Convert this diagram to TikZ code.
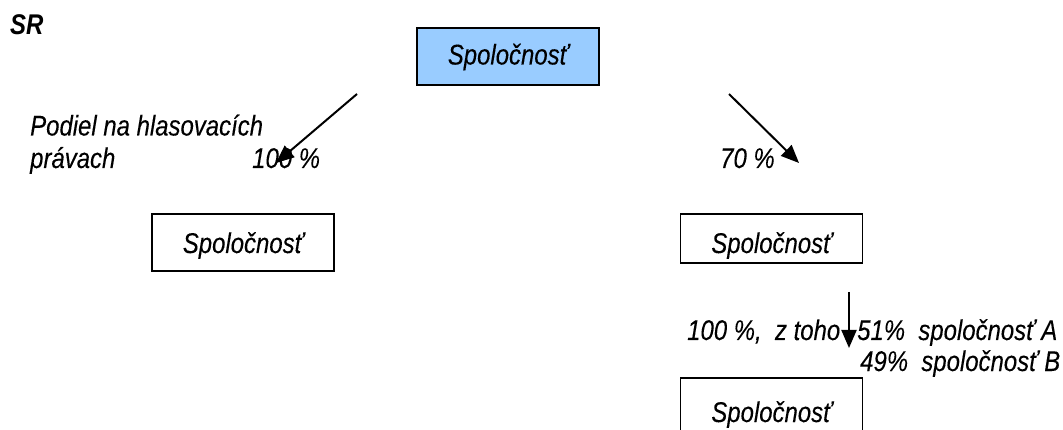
\documentclass[tikz,border=0pt]{standalone}
\usepackage{fontspec}
\setmainfont{Liberation Sans}[FakeStretch=0.84, ItalicFeatures={FakeBold=0.15}]
\usetikzlibrary{arrows.meta}
\definecolor{boxblue}{HTML}{99CCFF}
\begin{document}
\begin{tikzpicture}[x=1pt,y=-1pt,
  txt/.style={font=\fontsize{28.5}{32}\selectfont\itshape},
  company/.style={txt, draw=black, line width=1.8pt, minimum width=182pt,
    minimum height=57pt, inner sep=0pt, text depth=0pt},
  lbl/.style={txt, anchor=base west, inner sep=0pt},
  link/.style={line width=2pt, -{Triangle[length=18pt,width=15pt]}}]
\useasboundingbox (0,0) rectangle (1063,430);

% country heading
\node[lbl, font=\fontsize{28.5}{32}\selectfont\bfseries\itshape] (sr) at (10,35) {SR};

% companies
\node[company, fill=boxblue, text height=16pt] (parent) at (508,56.5) {Spoločnosť};
\node[company, text height=21pt] (subl) at (243,242.5) {Spoločnosť};
\node[company, minimum height=49pt, text height=29pt] (subr) at (771.5,238.5) {Spoločnosť};
\node[company, text height=31pt] (subsub) at (771.5,406.5) {Spoločnosť};

% ownership arrows
\coordinate (la) at (357,94);
\coordinate (lb) at (276,163);
\coordinate (ra) at (729,94);
\coordinate (rb) at (799,163);
\coordinate (da) at (849,292);
\coordinate (db) at (849,348);
\draw[link] (la) -- (lb);
\draw[link] (ra) -- (rb);
\draw[link] (da) -- (db);

% shares
\node[lbl] (vote1) at (30,135.5) {Podiel na hlasovacích};
\node[lbl] (vote2) at (30,168) {právach};
\node[lbl] (pl) at (252,168) {100 \%};
\node[lbl] (pr) at (720,168) {70 \%};
\node[lbl] (pd) at (687,340) {100 \%,\ \ z toho};
\node[lbl] (pa) at (857,340) {51\%\ \ spoločnosť A};
\node[lbl] (pb) at (860,371) {49\%\ \ spoločnosť B};
\end{tikzpicture}
\end{document}
